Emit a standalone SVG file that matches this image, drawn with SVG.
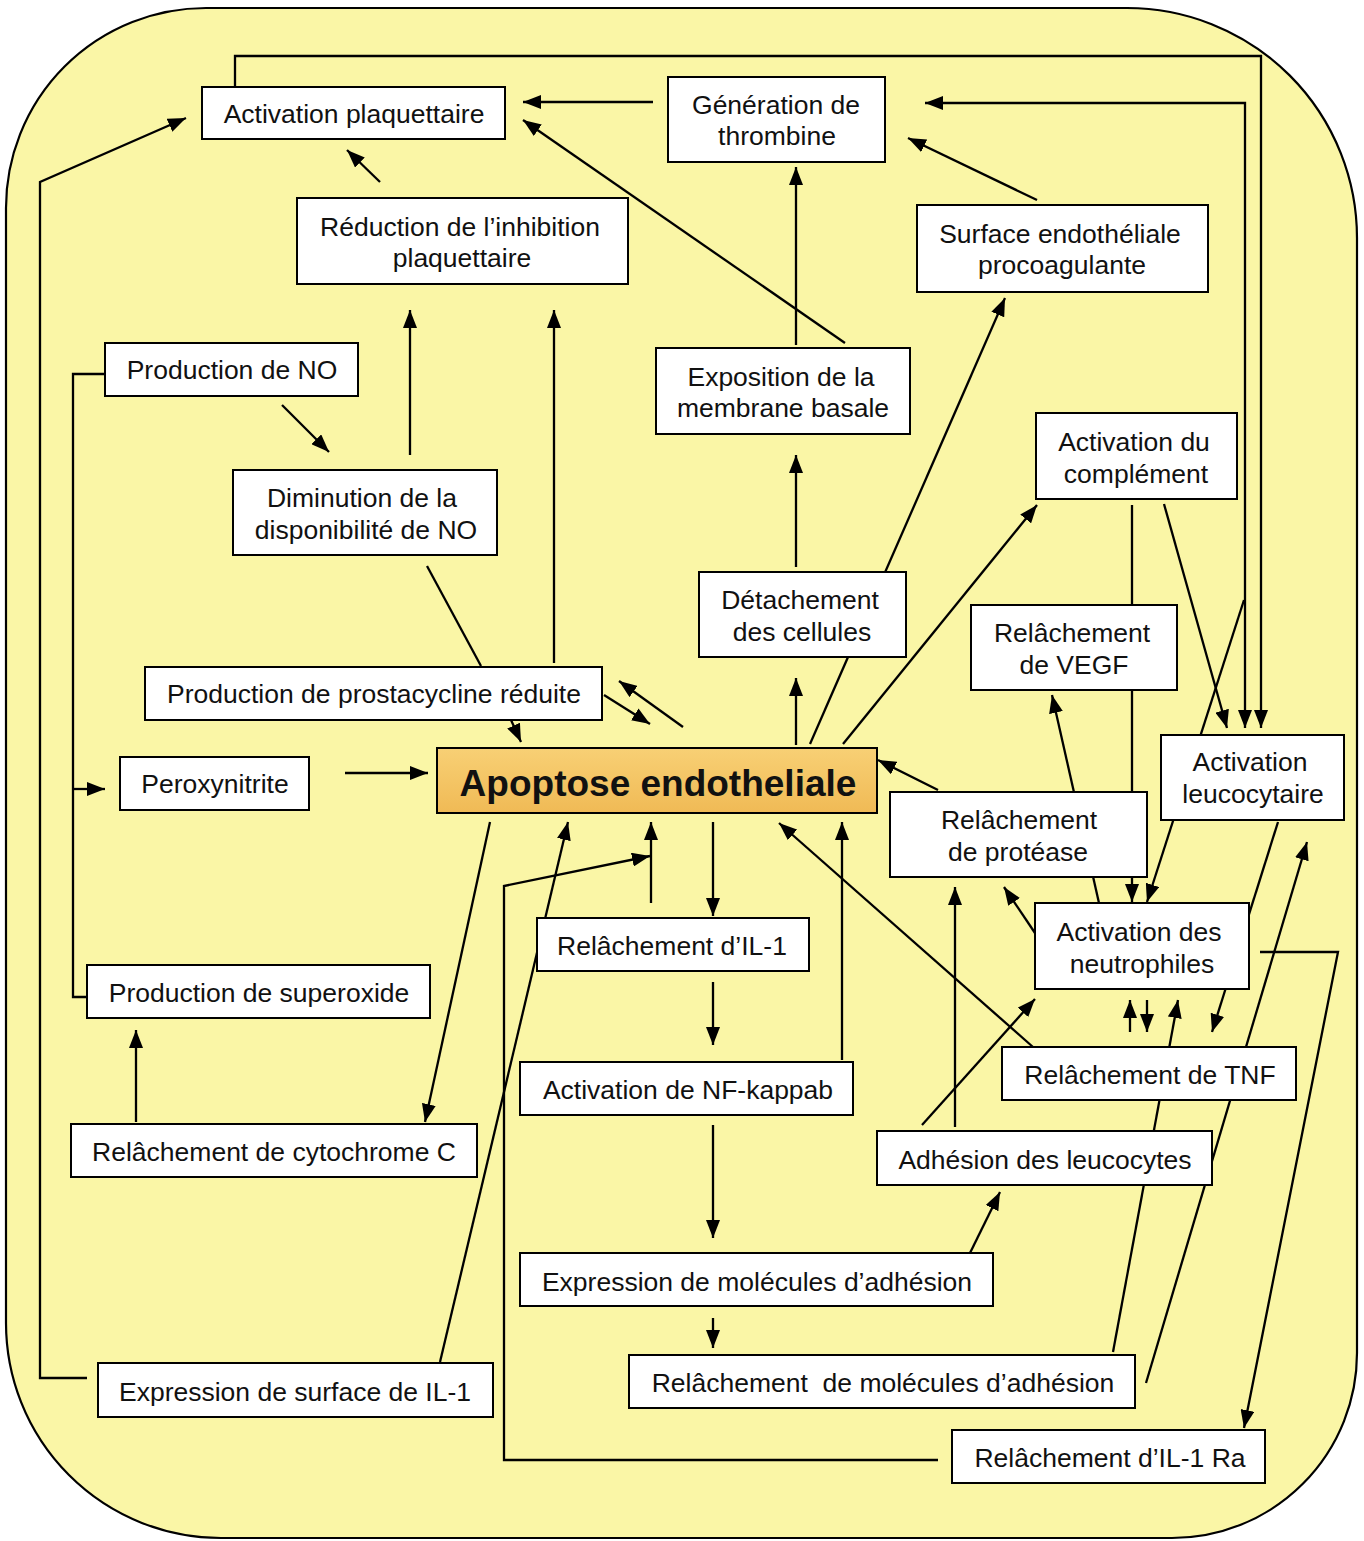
<svg xmlns="http://www.w3.org/2000/svg" width="1364" height="1541" viewBox="0 0 1364 1541">
<defs>
<marker id="ah" markerUnits="userSpaceOnUse" markerWidth="18" markerHeight="14" refX="18" refY="7" orient="auto-start-reverse">
<path d="M0,0 L18,7 L0,14 z" fill="#000"/>
</marker>
<linearGradient id="apo" x1="0" y1="0" x2="0" y2="1">
<stop offset="0" stop-color="#F8D075"/>
<stop offset="1" stop-color="#F0BA55"/>
</linearGradient>
<style>
.bg{fill:#FAF6A6;stroke:#000;stroke-width:2.2}
.box{fill:#fff;stroke:#000;stroke-width:2}
.apo{fill:url(#apo);stroke:#000;stroke-width:2}
.c{fill:none;stroke:#000;stroke-width:2.3}
.a{marker-end:url(#ah)}
text{font-family:"Liberation Sans",Arial,sans-serif;font-size:26.5px;fill:#111;text-anchor:middle;white-space:pre}
.big{font-size:37px;font-weight:bold}
</style>
</defs>
<path class="bg" d="M208,8 H1127 A230,230 0 0 1 1357,238 V1353 A185,185 0 0 1 1172,1538 H221 A215,215 0 0 1 6,1323 V208 A200,200 0 0 1 206,8 Z"/>
<g id="connectors">
<path class="c a" d="M235,87 V56 H1261 V728"/>
<path class="c a" d="M925,103 H1245 V728" marker-start="url(#ah)"/>
<path class="c a" d="M1244,600 L1147,902"/>
<path class="c a" d="M1164,504 L1227,728"/>
<path class="c a" d="M1132,505 V902"/>
<path class="c a" d="M1099,903 L1052,695"/>
<path class="c a" d="M938,790 L878,760"/>
<path class="c a" d="M1035,933 L1004,887"/>
<path class="c a" d="M1278,822 L1212,1032"/>
<path class="c a" d="M1146,1383 L1307,842"/>
<path class="c a" d="M1113,1352 L1178,1000"/>
<path class="c a" d="M1130,1032 V1000"/>
<path class="c a" d="M1147,1000 V1032"/>
<path class="c a" d="M1260,952 H1338 L1244,1428"/>
<path class="c a" d="M1033,1047 L779,823"/>
<path class="c a" d="M922,1125 L1035,999"/>
<path class="c a" d="M955,1127 V887"/>
<path class="c a" d="M970,1253 L1000,1192"/>
<path class="c a" d="M713,1318 V1348"/>
<path class="c a" d="M713,1125 V1238"/>
<path class="c a" d="M713,982 V1045"/>
<path class="c a" d="M713,822 V916"/>
<path class="c a" d="M651,903 V822"/>
<path class="c a" d="M938,1460 H504 V886 L650,856"/>
<path class="c a" d="M440,1362 L568,822"/>
<path class="c a" d="M490,822 L425,1122"/>
<path class="c a" d="M842,1060 V822"/>
<path class="c a" d="M796,745 V678"/>
<path class="c a" d="M810,744 L1005,298"/>
<path class="c a" d="M843,744 L1037,505"/>
<path class="c a" d="M796,567 V455"/>
<path class="c a" d="M796,345 V167"/>
<path class="c a" d="M845,343 L523,120"/>
<path class="c a" d="M653,102 H523"/>
<path class="c a" d="M1037,200 L908,138"/>
<path class="c a" d="M380,182 L347,150"/>
<path class="c a" d="M410,455 V310"/>
<path class="c a" d="M554,663 V310"/>
<path class="c" d="M427,566 L481,666"/>
<path class="c a" d="M282,405 L329,452"/>
<path class="c" d="M105,374 H73 V997 H87"/>
<path class="c a" d="M73,789 H105"/>
<path class="c a" d="M87,1378 H40 V182 L186,118"/>
<path class="c a" d="M511,720 L521,742"/>
<path class="c a" d="M604,695 L650,724"/>
<path class="c a" d="M683,727 L619,681"/>
<path class="c a" d="M345,773 H428"/>
<path class="c a" d="M136,1122 V1030"/>
</g>
<g id="n-activation-plaquettaire"><rect class="box" x="202" y="87" width="303" height="52"/><text x="354" y="123">Activation plaquettaire</text></g>
<g id="n-generation-thrombine"><rect class="box" x="668" y="77" width="217" height="85"/><text x="776" y="114">Génération de</text><text x="777" y="145">thrombine</text></g>
<g id="n-reduction-inhibition"><rect class="box" x="297" y="198" width="331" height="86"/><text x="460" y="236">Réduction de l’inhibition</text><text x="462" y="267">plaquettaire</text></g>
<g id="n-surface-endotheliale"><rect class="box" x="917" y="205" width="291" height="87"/><text x="1060" y="243">Surface endothéliale</text><text x="1062" y="274">procoagulante</text></g>
<g id="n-production-no"><rect class="box" x="105" y="343" width="253" height="53"/><text x="232" y="379">Production de NO</text></g>
<g id="n-exposition-membrane"><rect class="box" x="656" y="348" width="254" height="86"/><text x="781" y="386">Exposition de la</text><text x="783" y="417">membrane basale</text></g>
<g id="n-activation-complement"><rect class="box" x="1036" y="413" width="201" height="86"/><text x="1134" y="451">Activation du</text><text x="1136" y="483">complément</text></g>
<g id="n-diminution-no"><rect class="box" x="233" y="470" width="264" height="85"/><text x="362" y="507">Diminution de la</text><text x="366" y="539">disponibilité de NO</text></g>
<g id="n-detachement"><rect class="box" x="699" y="572" width="207" height="85"/><text x="800" y="609">Détachement</text><text x="802" y="641">des cellules</text></g>
<g id="n-vegf"><rect class="box" x="971" y="605" width="206" height="85"/><text x="1072" y="642">Relâchement</text><text x="1074" y="674">de VEGF</text></g>
<g id="n-prostacycline"><rect class="box" x="145" y="667" width="457" height="53"/><text x="374" y="703">Production de prostacycline réduite</text></g>
<g id="n-apoptose"><rect class="apo" x="437" y="748" width="440" height="65"/><text class="big" x="658" y="796">Apoptose endotheliale</text></g>
<g id="n-peroxynitrite"><rect class="box" x="120" y="757" width="189" height="53"/><text x="215" y="793">Peroxynitrite</text></g>
<g id="n-activation-leucocytaire"><rect class="box" x="1161" y="735" width="183" height="85"/><text x="1250" y="771">Activation</text><text x="1253" y="803">leucocytaire</text></g>
<g id="n-protease"><rect class="box" x="890" y="792" width="257" height="85"/><text x="1019" y="829">Relâchement</text><text x="1018" y="861">de protéase</text></g>
<g id="n-neutrophiles"><rect class="box" x="1035" y="903" width="214" height="86"/><text x="1139" y="941">Activation des</text><text x="1142" y="973">neutrophiles</text></g>
<g id="n-il1"><rect class="box" x="537" y="918" width="272" height="53"/><text x="672" y="955">Relâchement d’IL-1</text></g>
<g id="n-superoxide"><rect class="box" x="87" y="965" width="343" height="53"/><text x="259" y="1002">Production de superoxide</text></g>
<g id="n-tnf"><rect class="box" x="1002" y="1047" width="294" height="53"/><text x="1150" y="1084">Relâchement de TNF</text></g>
<g id="n-nfkappab"><rect class="box" x="520" y="1062" width="333" height="53"/><text x="688" y="1099">Activation de NF-kappab</text></g>
<g id="n-cytochrome"><rect class="box" x="71" y="1124" width="406" height="53"/><text x="274" y="1161">Relâchement de cytochrome C</text></g>
<g id="n-adhesion-leucocytes"><rect class="box" x="877" y="1131" width="335" height="54"/><text x="1045" y="1169">Adhésion des leucocytes</text></g>
<g id="n-expression-molecules"><rect class="box" x="520" y="1253" width="473" height="53"/><text x="757" y="1291">Expression de molécules d’adhésion</text></g>
<g id="n-relachement-molecules"><rect class="box" x="629" y="1355" width="506" height="53"/><text x="883" y="1392">Relâchement  de molécules d’adhésion</text></g>
<g id="n-expression-surface-il1"><rect class="box" x="98" y="1363" width="395" height="54"/><text x="295" y="1401">Expression de surface de IL-1</text></g>
<g id="n-il1ra"><rect class="box" x="952" y="1430" width="313" height="53"/><text x="1110" y="1467">Relâchement d’IL-1 Ra</text></g>
</svg>
